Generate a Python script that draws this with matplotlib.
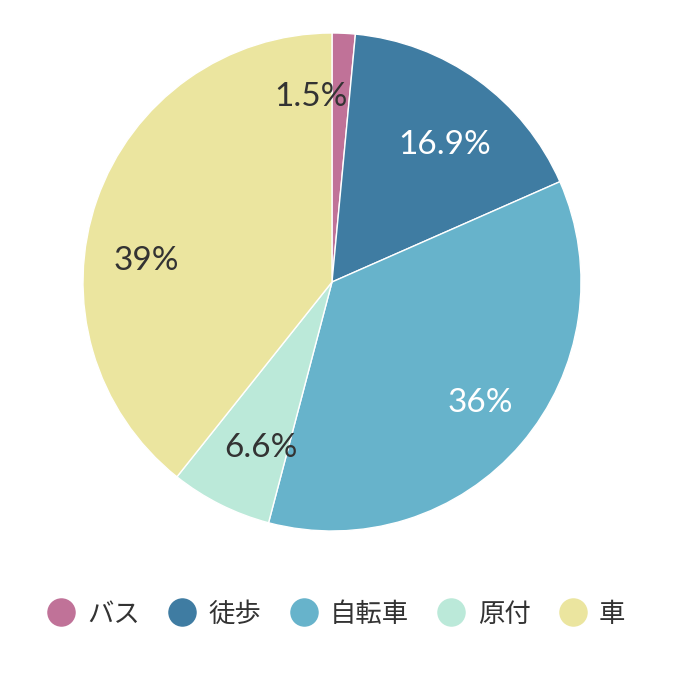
import numpy as np
import matplotlib
matplotlib.use("Agg")
import matplotlib.pyplot as plt
from matplotlib.lines import Line2D

categories = ["バス", "徒歩", "自転車", "原付", "車"]
values = [1.5, 16.9, 35.7, 6.6, 39.3]
value_labels = ["1.5%", "16.9%", "36%", "6.6%", "39%"]
colors = ["#c07298", "#3f7ca2", "#67b3cb", "#bbe9d9", "#ebe59f"]
text_colors = ["#333333", "#ffffff", "#ffffff", "#333333", "#333333"]
label_angle_shift = [9, -3, 2, 3.2, 12]
label_radius = [0.76, 0.72, 0.76, 0.715, 0.75]

plt.rcParams['font.family'] = ['Lato', 'Noto Sans CJK JP', 'DejaVu Sans']

fig = plt.figure(figsize=(6.8, 7.0), dpi=100)
ax = fig.add_axes([83/680, 169/700, 498/680, 498/700])
wedges, _ = ax.pie(values, colors=colors, startangle=90, counterclock=False,
                   radius=1.0, wedgeprops=dict(edgecolor="white", linewidth=1.0))
ax.set_xlim(-1, 1)
ax.set_ylim(-1, 1)
ax.set_aspect('equal')
ax.axis('off')

for w, lab, tc, sh, r in zip(wedges, value_labels, text_colors, label_angle_shift, label_radius):
    ang = np.deg2rad((w.theta1 + w.theta2) / 2 + sh)
    ax.text(r * np.cos(ang), r * np.sin(ang), lab, ha='center', va='center_baseline',
            fontsize=24, color=tc, family=['Lato', 'DejaVu Sans'])

handles = [Line2D([0], [0], marker='o', linestyle='', markersize=19.5,
                  markerfacecolor=c, markeredgecolor=c) for c in colors]
leg = fig.legend(handles, categories, loc='center', bbox_to_anchor=(0.495, 86/700),
                 ncol=5, frameon=False, handlelength=1.0, handletextpad=0.5,
                 columnspacing=1.1, prop={'family': ['Noto Sans CJK JP'], 'size': 19})
for t in leg.get_texts():
    t.set_color("#333333")

fig.savefig("out.png", dpi=100)
